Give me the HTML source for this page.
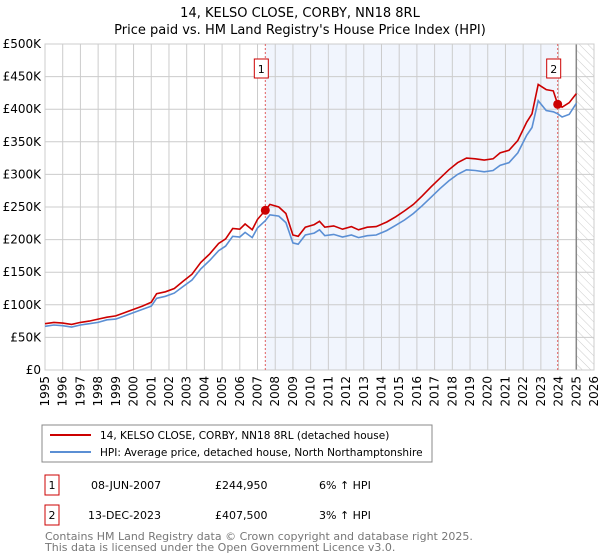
<!DOCTYPE html>
<html><head><meta charset="utf-8"><style>
body{margin:0;background:#fff;font-family:"DejaVu Sans","Liberation Sans",sans-serif;}
svg{display:block}
</style></head><body>
<svg id="chart" width="600" height="560" xmlns="http://www.w3.org/2000/svg">
<defs><pattern id="hatch" width="6" height="6" patternUnits="userSpaceOnUse" patternTransform="rotate(-45)"><line x1="0" y1="0" x2="0" y2="6" stroke="#ccc" stroke-width="1"/></pattern></defs>
<text x="300" y="17" text-anchor="middle" font-size="13" fill="#000">14, KELSO CLOSE, CORBY, NN18 8RL</text>
<text x="300" y="34" text-anchor="middle" font-size="13" fill="#000">Price paid vs. HM Land Registry's House Price Index (HPI)</text>
<g id="plot"></g>
<rect x="42" y="425" width="390" height="37" fill="#fff" stroke="#888"/>
<line x1="50" y1="435" x2="91" y2="435" stroke="#cc0000" stroke-width="2"/>
<text x="100" y="439" font-size="10.5">14, KELSO CLOSE, CORBY, NN18 8RL (detached house)</text>
<line x1="50" y1="452" x2="91" y2="452" stroke="#5b8fd4" stroke-width="2"/>
<text x="100" y="456" font-size="10.5">HPI: Average price, detached house, North Northamptonshire</text>
<g font-size="11" fill="#000">
<rect x="45" y="475" width="14" height="20" fill="#fff" stroke="#cc0000"/>
<text x="52" y="489" text-anchor="middle">1</text>
<text x="91" y="489">08-JUN-2007</text>
<text x="215" y="489">£244,950</text>
<text x="319" y="489">6% ↑ HPI</text>
<rect x="45" y="505" width="14" height="20" fill="#fff" stroke="#cc0000"/>
<text x="52" y="519" text-anchor="middle">2</text>
<text x="88" y="519">13-DEC-2023</text>
<text x="215" y="519">£407,500</text>
<text x="319" y="519">3% ↑ HPI</text>
</g>
<text x="45" y="540" font-size="11" fill="#777">Contains HM Land Registry data © Crown copyright and database right 2025.</text>
<text x="45" y="551" font-size="11" fill="#777">This data is licensed under the Open Government Licence v3.0.</text>
</svg>
<script>
const years=[1995,1995.5,1996,1996.5,1997,1997.5,1998,1998.5,1999,1999.5,2000,2000.5,2001,2001.3,2001.8,2002.3,2002.8,2003.3,2003.8,2004.3,2004.8,2005.2,2005.6,2006,2006.3,2006.7,2007,2007.44,2007.7,2008.2,2008.6,2009,2009.3,2009.7,2010.2,2010.5,2010.8,2011.3,2011.8,2012.3,2012.7,2013.2,2013.7,2014.3,2014.8,2015.3,2015.8,2016.3,2016.8,2017.3,2017.8,2018.3,2018.8,2019.3,2019.8,2020.3,2020.7,2021.2,2021.7,2022.2,2022.5,2022.85,2023.3,2023.7,2023.95,2024.2,2024.6,2025.0];
const hpi=[67,69,68,66,69,71,73,77,78,83,88,93,98,110,113,118,128,138,155,168,183,190,205,204,211,203,218,229,238,236,226,195,193,207,210,215,206,208,204,207,203,206,207,214,222,230,240,252,265,278,290,300,307,306,304,306,314,318,333,360,372,413,398,396,393,388,392,409];
const price=[71,73,72,70,73,75,78,81,83,88,93,98,104,117,120,125,136,147,165,178,194,201,217,216,224,215,231,244.95,254,250,240,207,205,219,223,228,219,221,216,220,215,219,220,227,235,244,254,267,281,294,307,318,325,324,322,324,333,337,352,380,393,438,430,428,407.5,403,410,424];
const yTicks=[0,50,100,150,200,250,300,350,400,450,500];
const xTicks=[1995,1996,1997,1998,1999,2000,2001,2002,2003,2004,2005,2006,2007,2008,2009,2010,2011,2012,2013,2014,2015,2016,2017,2018,2019,2020,2021,2022,2023,2024,2025,2026];
const sales=[{n:'1',t:2007.44,v:244.95},{n:'2',t:2023.95,v:407.5}];
const X0=45,X1=594,Y0=370,Y1=44;
const xs=t=>X0+(t-1995)/(2026-1995)*(X1-X0);
const ys=v=>Y0-v/500*(Y0-Y1);
const NS='http://www.w3.org/2000/svg';
const g=document.getElementById('plot');
function mk(tag,attrs){const e=document.createElementNS(NS,tag);for(const k in attrs)e.setAttribute(k,attrs[k]);g.appendChild(e);return e;}
let e;
e=mk('rect',{x:xs(sales[0].t),y:Y1,width:xs(sales[1].t)-xs(sales[0].t),height:Y0-Y1,fill:'#eef2fc',opacity:0.8});


e=mk('rect',{x:xs(2025),y:Y1,width:X1-xs(2025),height:Y0-Y1,fill:'url(#hatch)'});


yTicks.forEach(v=>{
 e=mk('line',{x1:X0,x2:X1,y1:ys(v),y2:ys(v),stroke:'#ccc','stroke-width':1});
 
 
 e=mk('text',{x:X0-4,y:ys(v)+4,'text-anchor':'end','font-size':12});
 e.textContent=v===0?'£0':'£'+v+'K';
 
 
});
xTicks.forEach(t=>{
 e=mk('line',{x1:xs(t),x2:xs(t),y1:Y1,y2:Y0,stroke:'#ccc','stroke-width':1});
 
 
 e=mk('text',{x:0,y:0,'text-anchor':'end','font-size':12,transform:`translate(${xs(t)+4},${Y0+6}) rotate(-90)`});
 e.textContent=t;
 
 
});
e=mk('line',{x1:xs(2025),x2:xs(2025),y1:Y1,y2:Y0,stroke:'#888','stroke-width':1.5});


e=mk('rect',{x:X0,y:Y1,width:X1-X0,height:Y0-Y1,fill:'none',stroke:'#ccc'});


sales.forEach(s=>{
 e=mk('line',{x1:xs(s.t),x2:xs(s.t),y1:Y1,y2:Y0,stroke:'#e06060','stroke-width':1,'stroke-dasharray':'2,2'});
 
 
});
const pts=a=>a.map((v,i)=>xs(years[i]).toFixed(1)+','+ys(v).toFixed(1)).join(' ');
e=mk('polyline',{points:pts(hpi),fill:'none',stroke:'#5b8fd4','stroke-width':1.6});


e=mk('polyline',{points:pts(price),fill:'none',stroke:'#cc0000','stroke-width':1.6});


sales.forEach(s=>{
 e=mk('circle',{cx:xs(s.t),cy:ys(s.v),r:4.5,fill:'#cc0000'});
 
 
 e=mk('rect',{x:xs(s.t)-11,y:59,width:14,height:19,fill:'#fff',stroke:'#cc0000'});
 
 
 e=mk('text',{x:xs(s.t)-4,y:73,'text-anchor':'middle','font-size':11});
 e.textContent=s.n;
 
 
});
</script>
</body></html>
